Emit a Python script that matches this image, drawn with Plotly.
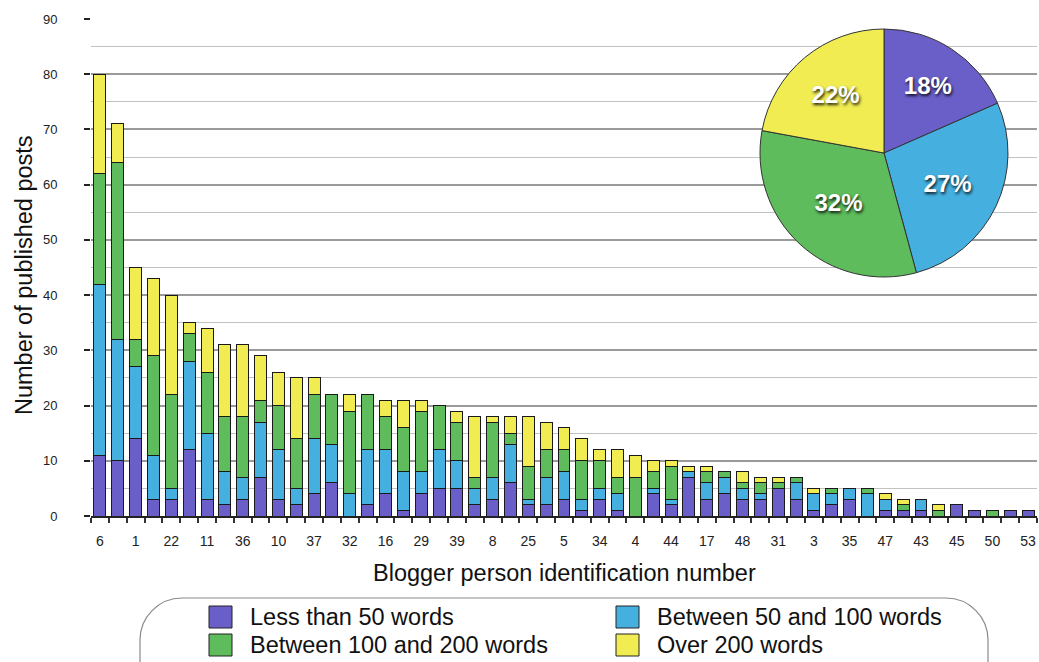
import plotly.graph_objects as go

# ---- data ----
shown_ids = ["6", "1", "22", "11", "36", "10", "37", "32", "16", "29", "39", "8", "25", "5",
             "34", "4", "44", "17", "48", "31", "3", "35", "47", "43", "45", "50", "53"]
series_names = ["Less than 50 words", "Between 50 and 100 words",
                "Between 100 and 200 words", "Over 200 words"]
less_50 = [11, 10, 14, 3, 3, 12, 3, 2, 3, 7, 3, 2, 4, 6, 0, 2, 4, 1, 4, 5,
           5, 2, 3, 6, 2, 2, 3, 1, 3, 1, 0, 4, 2, 7, 3, 4, 3, 3, 5, 3,
           1, 2, 3, 0, 1, 1, 1, 0, 2, 1, 0, 1, 1]
b50_100 = [31, 22, 13, 8, 2, 16, 12, 6, 4, 10, 9, 3, 10, 7, 4, 10, 8, 7, 4, 7,
           5, 3, 4, 7, 1, 5, 5, 2, 2, 3, 0, 1, 1, 1, 3, 3, 2, 1, 0, 3,
           3, 2, 2, 4, 2, 0, 2, 0, 0, 0, 0, 0, 0]
b100_200 = [20, 32, 5, 18, 17, 5, 11, 10, 11, 4, 8, 9, 8, 9, 15, 10, 6, 8, 11, 8,
            7, 2, 10, 2, 6, 5, 4, 7, 5, 3, 7, 3, 6, 0, 2, 1, 1, 2, 1, 1,
            0, 1, 0, 1, 0, 1, 0, 1, 0, 0, 1, 0, 0]
over_200 = [18, 7, 13, 14, 18, 2, 8, 13, 13, 8, 6, 11, 3, 0, 3, 0, 3, 5, 2, 0,
            2, 11, 1, 3, 9, 5, 4, 4, 2, 5, 4, 2, 1, 1, 1, 0, 2, 1, 1, 0,
            1, 0, 0, 0, 1, 1, 0, 1, 0, 0, 0, 0, 0]
y_ticks = [0, 10, 20, 30, 40, 50, 60, 70, 80, 90]

colors = ["#6A5FC9", "#45B0E0", "#5EBC5C", "#F0EC52"]
series = [less_50, b50_100, b100_200, over_200]

n = len(less_50)
xpos = list(range(n))
tickvals = xpos[::2]
ticktext = shown_ids

W, H = 1039, 662
L, R, T, B = 91, 2, 19, 146
PW, PH = W - L - R, H - T - B


def px(x):
    return (x - L) / PW


def py(y):
    return (H - B - y) / PH


FONT = "Liberation Sans, Arial, Helvetica, sans-serif"

fig = go.Figure()
for name, vals, col in zip(series_names, series, colors):
    fig.add_trace(go.Bar(
        x=xpos, y=[v if v else None for v in vals], name=name,
        marker=dict(color=col, line=dict(color="#1a1a1a", width=1)),
        showlegend=False))

totals = [sum(s) for s in series]
fig.add_trace(go.Pie(
    values=totals, labels=series_names, sort=False, direction="clockwise", rotation=0,
    marker=dict(colors=colors, line=dict(color="#333333", width=1)),
    texttemplate="%{percent:.0%}", textposition="inside", insidetextorientation="horizontal",
    textfont=dict(color="white", size=24, family=FONT, weight="bold",
                  shadow="1px 2px 3px rgba(0,0,0,0.85)"),
    domain=dict(x=[px(760), px(1008)], y=[py(277), py(29)]),
    showlegend=False, hoverinfo="label+percent"))

fig.update_layout(
    width=W, height=H, margin=dict(l=L, r=R, t=T, b=B, autoexpand=False),
    barmode="stack", bargap=0.33,
    paper_bgcolor="white", plot_bgcolor="white",
    font=dict(family=FONT, color="#222"),
    xaxis=dict(range=[-0.5, n - 0.5], tickmode="array", tickvals=tickvals, ticktext=ticktext,
               ticks="", showgrid=False, zeroline=False, showline=True, linecolor="#222",
               linewidth=2, tickfont=dict(size=14, color="#222"), ticklabelstandoff=11,
               minor=dict(ticks="outside", tick0=-0.5, dtick=1, ticklen=5,
                          tickcolor="#333", tickwidth=2, showgrid=False)),
    yaxis=dict(range=[0, 90], tickmode="array", tickvals=y_ticks, ticks="outside",
               ticklen=6, tickcolor="#222", tickwidth=2, showline=False, zeroline=False,
               showgrid=True, gridcolor="#9a9a9a", gridwidth=1.6,
               tickfont=dict(size=13, color="#222"), ticklabelstandoff=24,
               minor=dict(dtick=5, tick0=0, showgrid=True, gridcolor="#c2c2c2", gridwidth=1.2)),
)

# axis titles
fig.add_annotation(text="Blogger person identification number", xref="paper", yref="paper",
                   x=px(564), y=py(573), showarrow=False, font=dict(size=23.5, color="#111"),
                   xanchor="center", yanchor="middle")
fig.add_annotation(text="Number of published posts", xref="paper", yref="paper",
                   x=px(24), y=py(275), showarrow=False, textangle=-90,
                   font=dict(size=23.5, color="#111"), xanchor="center", yanchor="middle")

# legend box (rounded)
x0, x1, y0, y1, r = 140, 988, 598, 700, 42
path = (f"M {px(x0 + r)},{py(y0)} L {px(x1 - r)},{py(y0)} "
        f"C {px(x1 - r * 0.45)},{py(y0)} {px(x1)},{py(y0 + r * 0.45)} {px(x1)},{py(y0 + r)} "
        f"L {px(x1)},{py(y1)} L {px(x0)},{py(y1)} L {px(x0)},{py(y0 + r)} "
        f"C {px(x0)},{py(y0 + r * 0.45)} {px(x0 + r * 0.45)},{py(y0)} {px(x0 + r)},{py(y0)} Z")
fig.add_shape(type="path", xref="paper", yref="paper", path=path,
              line=dict(color="#8a8a8a", width=1.2), fillcolor="white", layer="above")

legend_pos = [(209, 617), (616, 617), (209, 645), (616, 645)]
for (lx, ly), name, col in zip(legend_pos, series_names, colors):
    fig.add_shape(type="rect", xref="paper", yref="paper",
                  x0=px(lx), x1=px(lx + 23), y0=py(ly - 11), y1=py(ly + 11),
                  fillcolor=col, line=dict(color="#222", width=1), layer="above")
    fig.add_annotation(text=name, xref="paper", yref="paper", x=px(lx + 39), y=py(ly),
                       xanchor="left", yanchor="middle", showarrow=False,
                       font=dict(size=23.5, color="#111"))

fig.write_html("out.html", config={"displayModeBar": False},
               post_script="document.body.style.margin='0';document.body.style.overflow='hidden';")
